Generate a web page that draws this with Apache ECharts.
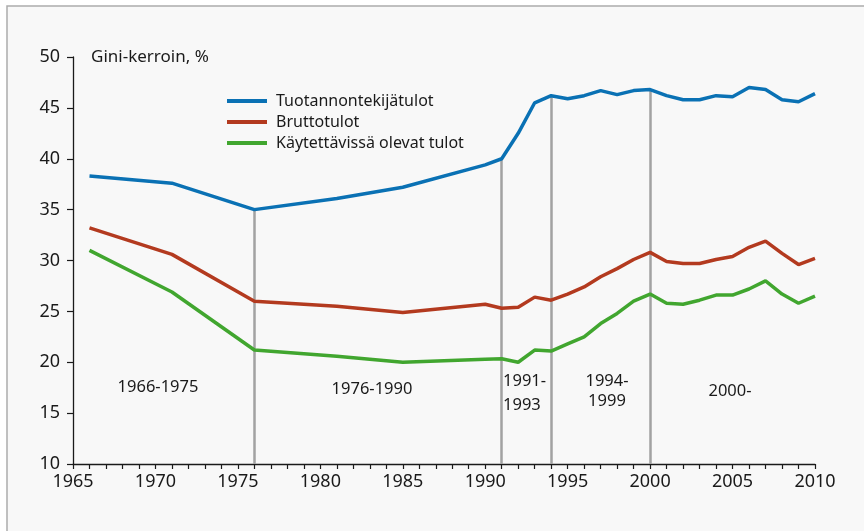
<!DOCTYPE html>
<html>
<head>
<meta charset="utf-8">
<script src="https://cdn.jsdelivr.net/npm/echarts@6/dist/echarts.min.js"></script>
<style>
  html, body { margin: 0; padding: 0; background: #fff; }
  #chart { width: 864px; height: 531px; }
</style>
</head>
<body>
<div id="chart"></div>
<script>
// Gini-kerroin 1966-2010, kolme tulokäsitettä

const years = [1966, 1971, 1976, 1981, 1985, 1990, 1991, 1992, 1993, 1994, 1995, 1996, 1997, 1998, 1999,
               2000, 2001, 2002, 2003, 2004, 2005, 2006, 2007, 2008, 2009, 2010];

const tuotannontekijatulot = [38.3, 37.6, 35.0, 36.1, 37.2, 39.4, 40.0, 42.5, 45.5, 46.2, 45.9, 46.2, 46.7, 46.3, 46.7,
                              46.8, 46.2, 45.8, 45.8, 46.2, 46.1, 47.0, 46.8, 45.8, 45.6, 46.4];
const bruttotulot = [33.2, 30.6, 26.0, 25.5, 24.9, 25.7, 25.3, 25.4, 26.4, 26.1, 26.7, 27.4, 28.4, 29.2, 30.1,
                     30.8, 29.9, 29.7, 29.7, 30.1, 30.4, 31.3, 31.9, 30.7, 29.6, 30.2];
const kaytettavissa = [31.0, 26.9, 21.2, 20.6, 20.0, 20.3, 20.35, 20.0, 21.2, 21.1, 21.8, 22.5, 23.8, 24.8, 26.0,
                       26.7, 25.8, 25.7, 26.1, 26.6, 26.6, 27.2, 28.0, 26.7, 25.8, 26.5];

const seriesNames = ['Tuotannontekijätulot', 'Bruttotulot', 'Käytettävissä olevat tulot'];
const seriesColors = ['#0a71b4', '#b33a1f', '#41a62f'];

// kausien rajavuodet ja nimet
const dividerYears = [1976, 1991, 1994, 2000];
const periodLabels = ['1966-1975', '1976-1990', '1991-\n1993', '1994-\n1999', '2000-'];

const FONT = '"Noto Sans", sans-serif';
const chart = echarts.init(document.getElementById('chart'));

const pairs = vals => years.map((y, i) => [y, vals[i]]);
const blueAt = yr => tuotannontekijatulot[years.indexOf(yr)];

const dividerLines = dividerYears.map(yr => [
    { coord: [yr, 10] },
    { coord: [yr, blueAt(yr)] }
]);

// kausitekstien paikat (px)
const labelPos = [
    { x: 158, y: 387, align: 'center', lh: 20 },
    { x: 372, y: 389, align: 'center', lh: 20 },
    { x: 503, y: 393, align: 'left', lh: 24 },
    { x: 607, y: 391, align: 'center', lh: 20 },
    { x: 730, y: 391, align: 'center', lh: 20 }
];

const option = {
    backgroundColor: '#ffffff',
    animation: false,
    title: {
        text: 'Gini-kerroin, %',
        left: 86,
        top: 44,
        textStyle: { fontFamily: FONT, fontSize: 17, fontWeight: 'normal', color: '#1a1a1a' }
    },
    legend: {
        orient: 'vertical',
        left: 227,
        top: 91,
        padding: 0,
        itemWidth: 40,
        itemHeight: 4,
        itemGap: 1,
        icon: 'rect',
        data: seriesNames,
        textStyle: { fontFamily: FONT, fontSize: 16, color: '#1a1a1a', lineHeight: 20, padding: [0, 0, 0, 4] }
    },
    grid: { left: 73, right: 49, top: 57, bottom: 67 },
    xAxis: {
        type: 'value',
        min: 1965,
        max: 2010,
        interval: 5,
        splitLine: { show: false },
        axisLine: { lineStyle: { color: '#1a1a1a', width: 1.3 } },
        axisTick: { length: 5, lineStyle: { color: '#1a1a1a', width: 1.2 } },
        minorTick: { show: true, splitNumber: 5, length: 5, lineStyle: { color: '#1a1a1a', width: 1.2 } },
        axisLabel: { fontFamily: FONT, fontSize: 18, color: '#1a1a1a', margin: 9, formatter: v => String(v) }
    },
    yAxis: {
        type: 'value',
        min: 10,
        max: 50,
        interval: 5,
        splitLine: { show: false },
        axisLine: { show: true, lineStyle: { color: '#1a1a1a', width: 1.3 } },
        axisTick: { show: true, length: 6, lineStyle: { color: '#1a1a1a', width: 1.2 } },
        axisLabel: { fontFamily: FONT, fontSize: 18, color: '#1a1a1a', margin: 13 }
    },
    series: [
        {
            name: seriesNames[0],
            type: 'line',
            data: pairs(tuotannontekijatulot),
            symbol: 'none',
            z: 3,
            lineStyle: { width: 3.5, color: seriesColors[0] },
            itemStyle: { color: seriesColors[0] },
            markLine: {
                silent: true,
                symbol: 'none',
                z: 1,
                label: { show: false },
                lineStyle: { color: '#a2a2a2', width: 2.5, type: 'solid' },
                data: dividerLines
            }
        },
        {
            name: seriesNames[1],
            type: 'line',
            data: pairs(bruttotulot),
            symbol: 'none',
            z: 3,
            lineStyle: { width: 3.5, color: seriesColors[1] },
            itemStyle: { color: seriesColors[1] }
        },
        {
            name: seriesNames[2],
            type: 'line',
            data: pairs(kaytettavissa),
            symbol: 'none',
            z: 3,
            lineStyle: { width: 3.5, color: seriesColors[2] },
            itemStyle: { color: seriesColors[2] }
        }
    ],
    graphic: [
        // kehys
        {
            type: 'rect',
            z: -10,
            shape: { x: 7, y: 6, width: 900, height: 600 },
            style: { fill: '#f8f8f8', stroke: '#acacac', lineWidth: 1.5 }
        }
    ].concat(periodLabels.map((txt, i) => ({
        type: 'text',
        x: labelPos[i].x,
        y: labelPos[i].y,
        style: {
            text: txt,
            font: '16.5px ' + FONT,
            fill: '#1a1a1a',
            align: labelPos[i].align,
            verticalAlign: 'middle',
            lineHeight: labelPos[i].lh
        }
    })))
};

chart.setOption(option);
</script>
</body>
</html>
